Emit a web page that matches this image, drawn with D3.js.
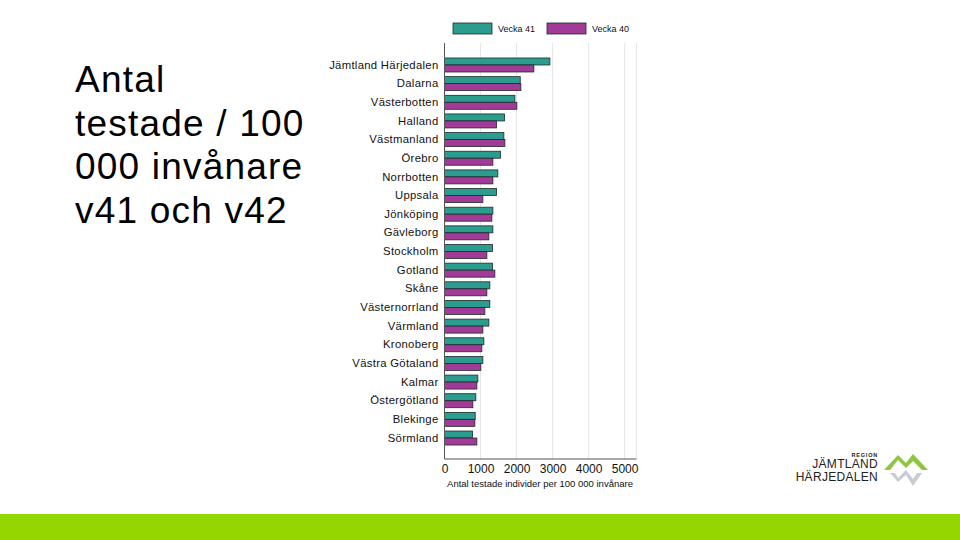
<!DOCTYPE html>
<html>
<head>
<meta charset="utf-8">
<script src="https://cdn.jsdelivr.net/npm/d3@7"></script>
<style>
  body { margin: 0; background: #fff; }
  svg { display: block; font-family: "Liberation Sans", Arial, sans-serif; }
</style>
</head>
<body>
<div class="canvas"></div>
<script>
const regions = ["Jämtland Härjedalen", "Dalarna", "Västerbotten", "Halland", "Västmanland",
    "Örebro", "Norrbotten", "Uppsala", "Jönköping", "Gävleborg", "Stockholm", "Gotland",
    "Skåne", "Västernorrland", "Värmland", "Kronoberg", "Västra Götaland", "Kalmar",
    "Östergötland", "Blekinge", "Sörmland"];
const vecka41 = [2926, 2102, 1954, 1667, 1648, 1556, 1481, 1444, 1343, 1343, 1333, 1333,
    1259, 1259, 1231, 1093, 1065, 926, 870, 852, 778];
const vecka40 = [2481, 2120, 2009, 1444, 1676, 1343, 1343, 1065, 1315, 1231, 1176, 1398,
    1176, 1120, 1065, 1037, 1009, 898, 787, 843, 898];
const seriesNames = ["Vecka 41", "Vecka 40"];
const xTicks = [0, 1000, 2000, 3000, 4000, 5000];
const titleLines = ["Antal", "testade / 100", "000 invånare", "v41 och v42"];

const dims = { width: 960, height: 540 };
const plot = { left: 444.5, right: 636.5, top: 43, bottom: 459 };

const svg = d3.select(".canvas")
    .append("svg")
    .attr("width", dims.width)
    .attr("height", dims.height);

// slide title
svg.append("text")
    .attr("x", 75)
    .attr("y", 92)
    .attr("font-size", 37)
    .attr("letter-spacing", 1.2)
    .attr("fill", "#000")
    .selectAll("tspan")
    .data(titleLines)
    .join("tspan")
    .attr("x", 75)
    .attr("dy", (d, i) => i === 0 ? 0 : 43.5)
    .text(d => d);

const x = d3.scaleLinear().domain([0, 5330]).range([plot.left, plot.right]);
const y = d3.scaleBand().domain(regions).range([plot.top + 1, plot.bottom]).paddingOuter(0.75).paddingInner(0.25);
const y2 = d3.scaleBand().domain(seriesNames).range([0, y.bandwidth()]);
const color = d3.scaleOrdinal().domain(seriesNames).range(["#2a9d8f", "#a23a98"]);

// gridlines
svg.append("g")
    .selectAll("line")
    .data(xTicks.slice(1).concat([5330]))
    .join("line")
    .attr("x1", d => x(d)).attr("x2", d => x(d))
    .attr("y1", plot.top).attr("y2", plot.bottom)
    .attr("stroke", "#e6e6e6")
    .attr("stroke-width", 1);

// bars
const rows = svg.append("g")
    .selectAll("g")
    .data(regions.map((r, i) => ({ region: r, values: [vecka41[i], vecka40[i]] })))
    .join("g")
    .attr("transform", d => `translate(0,${y(d.region)})`);

rows.selectAll("rect")
    .data(d => d.values.map((v, j) => ({ name: seriesNames[j], value: v })))
    .join("rect")
    .attr("x", x(0))
    .attr("y", d => y2(d.name))
    .attr("width", d => x(d.value) - x(0))
    .attr("height", y2.bandwidth())
    .attr("fill", d => color(d.name))
    .attr("stroke", "#1e2a2a")
    .attr("stroke-width", 0.8);

// y axis
const yAxis = svg.append("g")
    .attr("transform", `translate(${plot.left},0)`)
    .call(d3.axisLeft(y).tickSize(0).tickPadding(6));
yAxis.select(".domain").attr("stroke", "#555").attr("d", `M0,${plot.top}V${plot.bottom}`);
yAxis.selectAll("text").attr("font-size", 11.3).attr("letter-spacing", 0.3).attr("fill", "#111")
    .attr("font-family", "Liberation Sans, Arial, sans-serif");

// x axis
const xAxis = svg.append("g")
    .attr("transform", `translate(0,${plot.bottom})`)
    .call(d3.axisBottom(x).tickValues(xTicks).tickSize(0).tickPadding(5).tickFormat(d3.format("d")));
xAxis.select(".domain").attr("stroke", "#555").attr("d", `M${plot.left},0H${plot.right}`);
xAxis.selectAll("text").attr("font-size", 12).attr("fill", "#111")
    .attr("font-family", "Liberation Sans, Arial, sans-serif");

svg.append("text")
    .attr("x", 540)
    .attr("y", 487)
    .attr("text-anchor", "middle")
    .attr("font-size", 9.5)
    .attr("fill", "#111")
    .text("Antal testade individer per 100 000 invånare");

// legend
const legend = svg.append("g")
    .selectAll("g")
    .data(seriesNames)
    .join("g")
    .attr("transform", (d, i) => `translate(${453 + i * 94},23)`);
legend.append("rect")
    .attr("width", 39).attr("height", 11)
    .attr("fill", d => color(d))
    .attr("stroke", "#1e2a2a").attr("stroke-width", 0.8);
legend.append("text")
    .attr("x", 45).attr("y", 9)
    .attr("font-size", 9)
    .attr("fill", "#111")
    .text(d => d);

// logo
const logo = svg.append("g");
logo.append("text").attr("x", 878).attr("y", 457).attr("text-anchor", "end")
    .attr("font-size", 5.5).attr("font-weight", "bold").attr("letter-spacing", 0.8)
    .attr("fill", "#222").text("REGION");
logo.append("text").attr("x", 878).attr("y", 468).attr("text-anchor", "end")
    .attr("font-size", 12).attr("fill", "#222").attr("letter-spacing", 0.3).text("JÄMTLAND");
logo.append("text").attr("x", 878).attr("y", 481).attr("text-anchor", "end")
    .attr("font-size", 12).attr("fill", "#222").attr("letter-spacing", 0.3).text("HÄRJEDALEN");
logo.append("path")
    .attr("d", "M884,470 L898,455 L906,463 L913,454 L928,470 L922,470 L913,461 L906,468 L898,460 L890,470 Z")
    .attr("fill", "#8dc63f");
logo.append("path")
    .attr("d", "M890,473 L898,482 L906,475 L913,486 L922,473 L917,473 L913,479 L906,470 L898,478 L895,473 Z")
    .attr("fill", "#c9cdd2");

// bottom band
svg.append("rect")
    .attr("x", 0).attr("y", 514)
    .attr("width", dims.width).attr("height", 26)
    .attr("fill", "#95d600");
</script>
</body>
</html>
